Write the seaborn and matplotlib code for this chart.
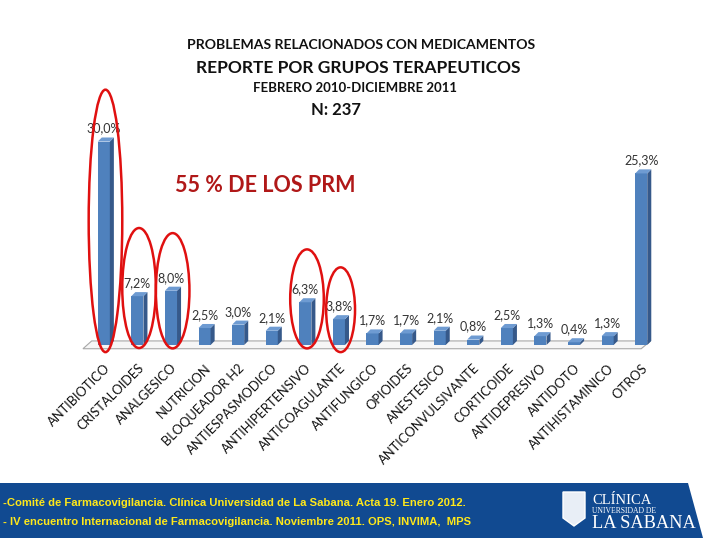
import matplotlib
matplotlib.use("Agg")
import matplotlib.pyplot as plt
from matplotlib.patches import Polygon, Ellipse
import seaborn as sns
import pandas as pd

categories = ["ANTIBIOTICO", "CRISTALOIDES", "ANALGESICO", "NUTRICION", "BLOQUEADOR H2",
              "ANTIESPASMODICO", "ANTIHIPERTENSIVO", "ANTICOAGULANTE", "ANTIFUNGICO",
              "OPIOIDES", "ANESTESICO", "ANTICONVULSIVANTE", "CORTICOIDE", "ANTIDEPRESIVO",
              "ANTIDOTO", "ANTIHISTAMINICO", "OTROS"]
values = [30.0, 7.2, 8.0, 2.5, 3.0, 2.1, 6.3, 3.8, 1.7, 1.7, 2.1, 0.8, 2.5, 1.3, 0.4, 1.3, 25.3]
value_labels = ["30,0%", "7,2%", "8,0%", "2,5%", "3,0%", "2,1%", "6,3%", "3,8%", "1,7%",
                "1,7%", "2,1%", "0,8%", "2,5%", "1,3%", "0,4%", "1,3%", "25,3%"]
highlighted = ["ANTIBIOTICO", "CRISTALOIDES", "ANALGESICO", "ANTIHIPERTENSIVO", "ANTICOAGULANTE"]

title_lines = ["PROBLEMAS RELACIONADOS CON MEDICAMENTOS", "REPORTE POR GRUPOS TERAPEUTICOS",
               "FEBRERO 2010-DICIEMBRE 2011", "N: 237"]
annotation = "55 % DE LOS PRM"
footer_lines = ["-Comité de Farmacovigilancia. Clínica Universidad de La Sabana. Acta 19. Enero 2012.",
                "- IV encuentro Internacional de Farmacovigilancia. Noviembre 2011. OPS, INVIMA,  MPS"]

sns.set_theme(style="white")
plt.rcParams["font.family"] = ["Lato", "DejaVu Sans"]

W, H = 728, 546
fig = plt.figure(figsize=(W / 100, H / 100), dpi=100)
fig.patch.set_facecolor("white")

# axes: x 87..658 px, baseline at y=345 px, top at 128 px
ax = fig.add_axes([87 / W, (H - 345) / H, 571 / W, 217 / H])
ax.set_facecolor("none")

df = pd.DataFrame({"cat": categories, "val": values})
front = "#4F81BD"
side = "#36598A"
topc = "#6E9BD2"
sns.barplot(data=df, x="cat", y="val", color=front, saturation=1, width=0.36, ax=ax,
            edgecolor="none", zorder=3)
ax.set_xlim(-0.5, 16.5)
ax.set_ylim(0, 32)

dx, dy = 0.12, 0.6
for p in list(ax.patches):
    x0, w, h = p.get_x(), p.get_width(), p.get_height()
    ax.add_patch(Polygon([(x0 + w, 0), (x0 + w + dx, dy), (x0 + w + dx, h + dy), (x0 + w, h)],
                         closed=True, facecolor=side, edgecolor="none", zorder=3))
    ax.add_patch(Polygon([(x0, h), (x0 + w, h), (x0 + w + dx, h + dy), (x0 + dx, h + dy)],
                         closed=True, facecolor=topc, edgecolor="none", zorder=3))

# floor
ax.add_patch(Polygon([(-0.62, -0.55), (16.0, -0.55), (16.28, 0.6), (-0.36, 0.6)],
                     closed=True, facecolor="#F6F6F6", edgecolor="#A8A8A8", lw=0.8,
                     zorder=1, clip_on=False))

ax.bar_label(ax.containers[0], labels=value_labels, padding=5, fontsize=9, color="#333333",
             family=["Lato", "DejaVu Sans"])

# red ellipses around highlighted groups
ell_spec = {"ANTIBIOTICO": (18.3, 38.7, 1.0), "CRISTALOIDES": (8.4, 17.7, 1.0),
            "ANALGESICO": (8.0, 17.0, 1.0), "ANTIHIPERTENSIVO": (6.8, 14.6, 1.0),
            "ANTICOAGULANTE": (5.2, 12.5, 0.86)}
for name in highlighted:
    i = categories.index(name)
    cy, hh, ww = ell_spec[name]
    ax.add_patch(Ellipse((i + 0.05, cy), ww, hh, facecolor="none", edgecolor="#E01010",
                         lw=1.8, zorder=5, clip_on=False))

sns.despine(ax=ax, left=True, bottom=True)
ax.set_yticks([])
ax.set_xlabel("")
ax.set_ylabel("")
ax.set_xticks(range(len(categories)))
ax.set_xticklabels(categories, rotation=45, ha="right", va="top", rotation_mode="anchor",
                   fontsize=9.3, color="#111111")
ax.tick_params(axis="x", length=0, pad=12)

# titles
fig.text(361 / W, 1 - 45 / H, title_lines[0], ha="center", va="center", fontsize=10.1,
         fontweight="bold", color="#111111")
fig.text(358 / W, 1 - 68 / H, title_lines[1], ha="center", va="center", fontsize=12.5,
         fontweight="bold", color="#111111")
fig.text(355 / W, 1 - 88 / H, title_lines[2], ha="center", va="center", fontsize=9.5,
         fontweight="bold", color="#111111")
fig.text(336 / W, 1 - 110 / H, title_lines[3], ha="center", va="center", fontsize=12,
         fontweight="bold", color="#111111")
fig.text(265 / W, 1 - 186 / H, annotation, ha="center", va="center", fontsize=15.5,
         fontweight="bold", color="#B01818")

# footer band
band = fig.add_axes([0, 0, 1, 1], zorder=-1)
band.set_xlim(0, W)
band.set_ylim(H, 0)
band.axis("off")
band.add_patch(Polygon([(0, 483), (688, 483), (703, 538), (0, 538)], closed=True,
                       facecolor="#114A91", edgecolor="none"))
ffam = ["Liberation Sans Narrow", "Liberation Sans", "DejaVu Sans"]
fig.text(3 / W, 1 - 503 / H, footer_lines[0], ha="left", va="center", fontsize=8.1,
         fontweight="bold", color="#FFE81A", family=ffam)
fig.text(3 / W, 1 - 522 / H, footer_lines[1], ha="left", va="center", fontsize=8.1,
         fontweight="bold", color="#FFE81A", family=ffam)

# logo
band.add_patch(Polygon([(563, 492), (585, 492), (585, 518), (574, 526), (563, 518)], closed=True,
                       facecolor="#E8EEF6", edgecolor="white", lw=1))
fig.text(592 / W, 1 - 500 / H, "CLÍNICA", ha="left", va="center", fontsize=10.5,
         color="white", family=["Liberation Serif", "DejaVu Serif"])
fig.text(592 / W, 1 - 511 / H, "UNIVERSIDAD DE", ha="left", va="center", fontsize=5.5,
         color="white", family=["Liberation Serif", "DejaVu Serif"])
fig.text(592 / W, 1 - 523 / H, "LA SABANA", ha="left", va="center", fontsize=13.2,
         color="white", family=["Liberation Serif", "DejaVu Serif"])

fig.savefig("out.png", dpi=100)
